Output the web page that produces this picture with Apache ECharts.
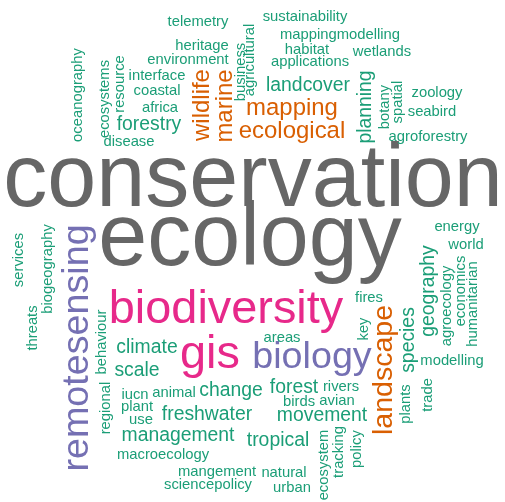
<!DOCTYPE html>
<html>
<head>
<meta charset="utf-8">
<script src="https://cdn.jsdelivr.net/npm/echarts@6/dist/echarts.min.js"></script>
<style>
  html, body { margin: 0; padding: 0; background: #fff; }
  #chart { width: 505px; height: 502px; }
</style>
</head>
<body>
<div id="chart"></div>
<script>
// words, how often they occur, and where the cloud put them (pixel coords of the word centre)
const words = [
  'conservation', 'ecology', 'biodiversity', 'gis', 'biology', 'mapping', 'ecological', 'landcover',
  'forestry', 'disease', 'africa', 'coastal', 'interface', 'environment', 'heritage', 'telemetry',
  'sustainability', 'mappingmodelling', 'habitat', 'applications', 'wetlands', 'zoology', 'seabird', 'agroforestry',
  'energy', 'world', 'fires', 'areas', 'modelling', 'rivers', 'avian', 'birds',
  'forest', 'movement', 'tropical', 'natural', 'urban', 'climate', 'scale', 'iucn',
  'animal', 'change', 'plant', 'use', 'freshwater', 'management', 'macroecology', 'mangement',
  'sciencepolicy',
  'remotesensing', 'wildlife', 'marine', 'landscape', 'planning', 'oceanography', 'ecosystems', 'resource',
  'business', 'agricultural', 'botany', 'spatial', 'geography', 'species', 'agroecology', 'economics',
  'humanitarian', 'key', 'plants', 'trade', 'ecosystem', 'tracking', 'policy', 'threats',
  'services', 'biogeography', 'behaviour', 'regional'
];
const freqs = [
  17, 17, 8, 8, 6, 3, 3, 2,
  2, 1, 1, 1, 1, 1, 1, 1,
  1, 1, 1, 1, 1, 1, 1, 1,
  1, 1, 1, 1, 1, 1, 1, 1,
  2, 2, 2, 1, 1, 2, 2, 1,
  1, 2, 1, 1, 2, 2, 1, 1,
  1,
  6, 3, 3, 4, 2, 1, 1, 1,
  1, 1, 1, 1, 2, 2, 1, 1,
  1, 1, 1, 1, 1, 1, 1, 1,
  1, 1, 1, 1
];
const posX = [
  253, 250, 226, 210, 312, 292, 292, 308,
  149, 129, 160, 157, 157, 188, 202, 198,
  305, 340, 307, 310, 382, 437, 432, 428,
  457, 466, 369, 282, 452, 341, 337, 299,
  294, 322, 278, 284, 292, 147, 137, 135,
  174, 231, 137, 141, 207, 178, 163, 217,
  208,
  78, 202, 225, 384, 366, 78, 105, 120,
  241, 250, 385, 398, 429, 409, 447, 461,
  473, 364, 406, 428, 324, 339, 357, 33,
  19, 48, 102, 106
];
const posY = [
  182, 241, 310, 355, 358, 108, 131, 86,
  125, 142, 108, 91, 76, 60, 46, 22,
  17, 35, 50, 62, 52, 93, 112, 137,
  227, 245, 298, 338, 361, 387, 401, 402,
  388, 416, 441, 473, 488, 348, 371, 395,
  393, 391, 407, 420, 415, 436, 455, 472,
  485,
  348, 105, 106, 370, 107, 95, 99, 84,
  72, 60, 107, 102, 291, 340, 306, 291,
  304, 329, 404, 395, 465, 452, 449, 328,
  260, 269, 342, 408
];
const vertical = [
  'remotesensing', 'wildlife', 'marine', 'landscape', 'planning', 'oceanography', 'ecosystems', 'resource',
  'business', 'agricultural', 'botany', 'spatial', 'geography', 'species', 'agroecology', 'economics',
  'humanitarian', 'key', 'plants', 'trade', 'ecosystem', 'tracking', 'policy', 'threats',
  'services', 'biogeography', 'behaviour', 'regional'
];

// Dark2 colours by frequency tier
function tierColor(f) {
  if (f <= 2) return '#1B9E77';
  if (f <= 4) return '#D95F02';
  if (f <= 6) return '#7570B3';
  if (f <= 8) return '#E7298A';
  return '#666666';
}
function fontSize(f) {
  return 14.8 + 4.58 * (f - 1);
}

const data = words.map((w, i) => ({
  name: w,
  value: [posX[i], posY[i]],
  label: {
    fontSize: fontSize(freqs[i]),
    color: tierColor(freqs[i]),
    rotate: vertical.indexOf(w) >= 0 ? 90 : 0
  }
}));

const chart = echarts.init(document.getElementById('chart'));
chart.setOption({
  animation: false,
  backgroundColor: '#ffffff',
  grid: { left: 0, right: 0, top: 0, bottom: 0 },
  xAxis: { type: 'value', min: 0, max: 505, show: false },
  yAxis: { type: 'value', min: 0, max: 502, inverse: true, show: false },
  series: [{
    type: 'scatter',
    symbolSize: 1,
    itemStyle: { color: 'rgba(0,0,0,0)', opacity: 1 },
    label: {
      show: true,
      position: 'inside',
      formatter: '{b}',
      fontFamily: 'Liberation Sans, Arial, sans-serif',
      align: 'center',
      verticalAlign: 'middle',
      opacity: 1
    },
    emphasis: { disabled: true },
    data: data
  }]
});
</script>
</body>
</html>
